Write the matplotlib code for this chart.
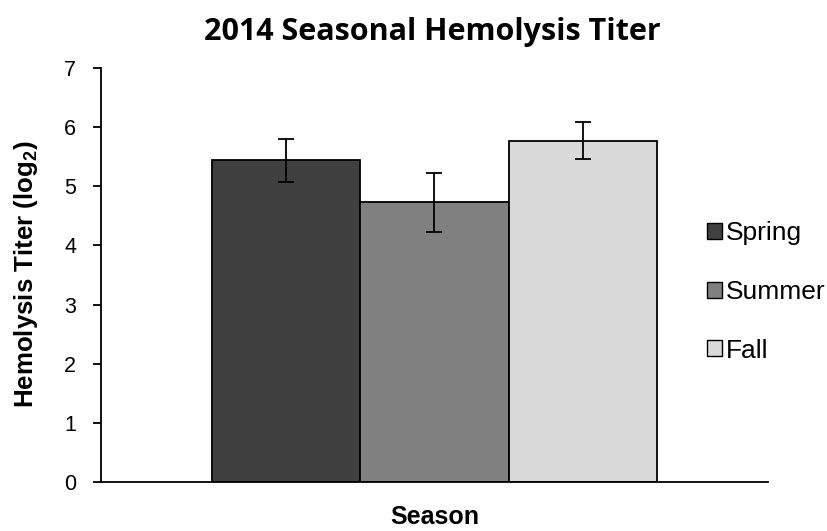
import matplotlib
matplotlib.use("Agg")
import matplotlib.pyplot as plt
import numpy as np

plt.rcParams['font.family'] = ['Liberation Sans', 'DejaVu Sans']
plt.rcParams['mathtext.fontset'] = 'custom'
plt.rcParams['mathtext.rm'] = 'Liberation Sans:bold'
plt.rcParams['mathtext.bf'] = 'Liberation Sans:bold'

seasons = ['Spring', 'Summer', 'Fall']
titer = [5.44, 4.73, 5.77]
err = [0.36, 0.50, 0.31]
colors = ['#404040', '#808080', '#d9d9d9']

fig = plt.figure(figsize=(8.28, 5.31), dpi=100)
ax = fig.add_axes([0.122, 0.0923, 0.8055, 0.7797])

width = 1.0
x = (np.arange(len(seasons)) - 1) * width
for xi, v, e, c, s in zip(x, titer, err, colors, seasons):
    ax.bar(xi, v, width=width, color=c, edgecolor='black', linewidth=1.3, label=s)
    ax.errorbar(xi, v, yerr=e, fmt='none', ecolor='black', elinewidth=1.3,
                capsize=5.5, capthick=1.3)

ax.set_xlim(-1.5 - 0.75, 1.5 + 0.75)
ax.set_ylim(0, 7)
ax.set_yticks(range(8))
ax.set_xticks([])
ax.tick_params(axis='y', labelsize=15.5, length=6, width=1.3, direction='out', pad=12)
for sp in ['top', 'right']:
    ax.spines[sp].set_visible(False)
for sp in ['left', 'bottom']:
    ax.spines[sp].set_linewidth(1.3)

fig.text(0.522, 0.925, '2014 Seasonal Hemolysis Titer', ha='center', va='baseline',
         fontsize=22, fontweight='bold', family=['Open Sans', 'DejaVu Sans'])
fig.text(0.031, 0.484, r'Hemolysis Titer (log$_{2}$)', rotation=90, ha='center', va='center',
         fontsize=18.6, fontweight='bold')
fig.text(0.525, 0.026, 'Season', ha='center', va='center', fontsize=18, fontweight='bold')

leg = fig.legend(loc='center left', bbox_to_anchor=(0.854, 0.45), frameon=False,
                 fontsize=19, handlelength=0.57, handleheight=0.57, handletextpad=0.15,
                 labelspacing=1.31, borderpad=0, borderaxespad=0)
for h in leg.legend_handles:
    h.set_linewidth(1.0)

fig.savefig('out.png', dpi=100)
